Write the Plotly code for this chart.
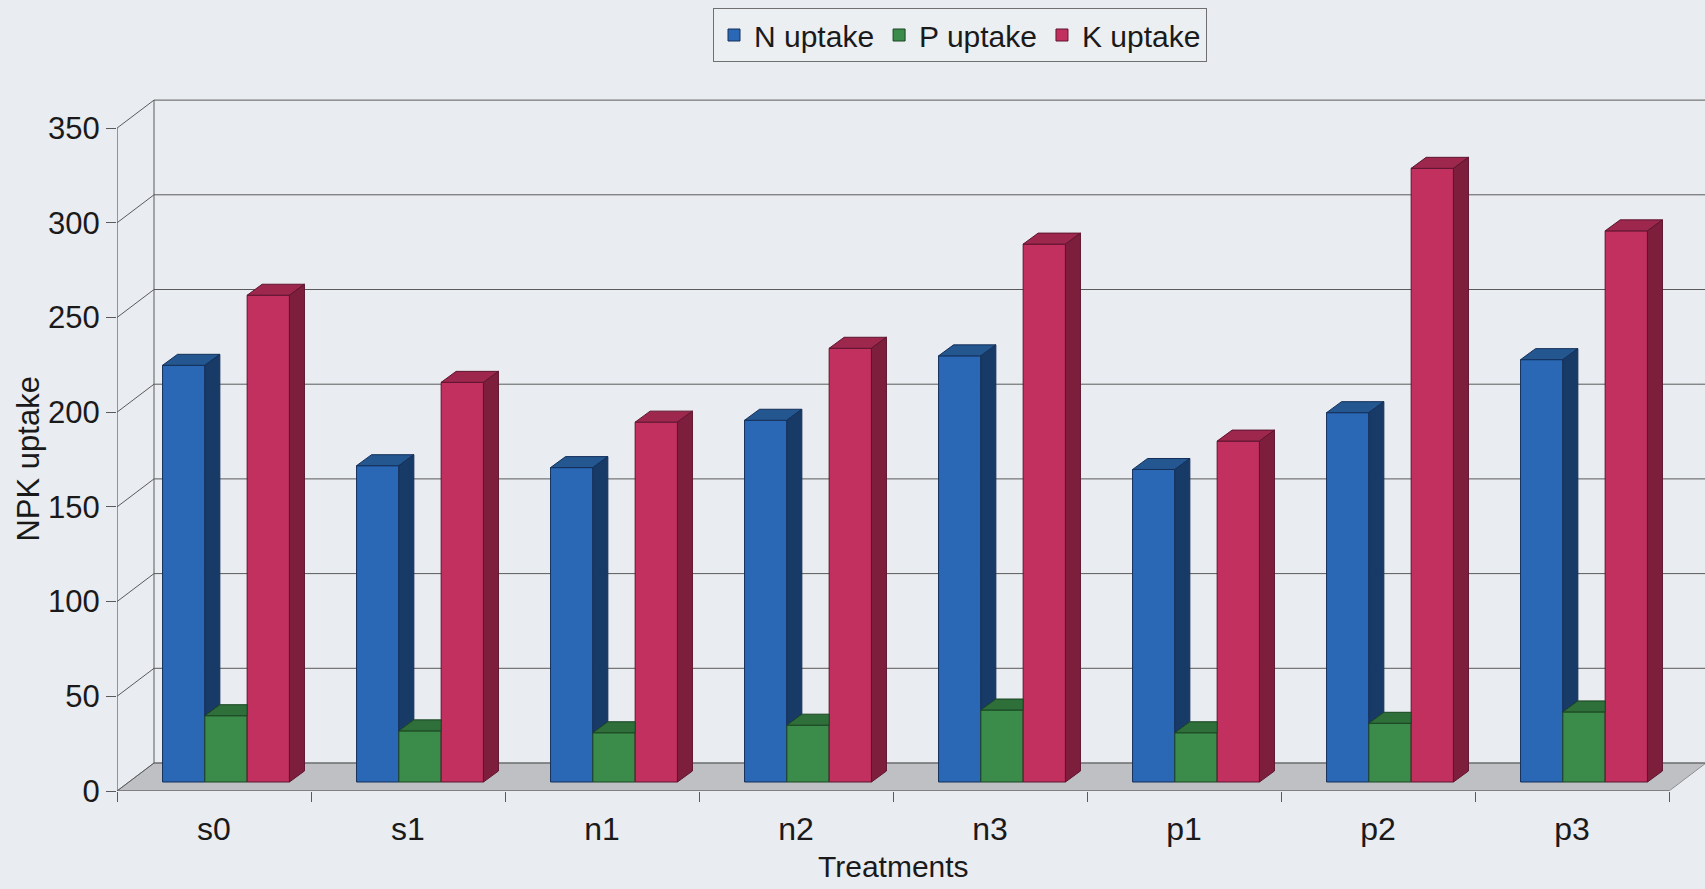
import plotly.graph_objects as go

# ---- data -------------------------------------------------------------
treatments = ["s0", "s1", "n1", "n2", "n3", "p1", "p2", "p3"]
n_uptake = [220, 167, 166, 191, 225, 165, 195, 223]
p_uptake = [35, 27, 26, 30, 38, 26, 31, 37]
k_uptake = [257, 211, 190, 229, 284, 180, 324, 291]
y_ticks = [0, 50, 100, 150, 200, 250, 300, 350]

series = [
    # name, values, front, top, side, edge
    ("N uptake", n_uptake, "#2a68b5", "#245690", "#173b66", "#14305a"),
    ("P uptake", p_uptake, "#3b8c4a", "#2e6f3a", "#1f4f29", "#1a4422"),
    ("K uptake", k_uptake, "#c2305f", "#9e274d", "#7e1e3d", "#5e1530"),
]

# ---- page / projection geometry ----------------------------------------
W, H = 1705, 889
ML, MR, MT, MB = 117, 0, 60, 98
FRONT_RIGHT_PX = 1669                     # right end of the front category axis
N_CAT = len(treatments)
PX_X = (FRONT_RIGHT_PX - ML) / N_CAT      # pixels per category
PX_Y = 1.894                              # pixels per value unit

X_MAX = (W - ML - MR) / PX_X
Y_MAX = (H - MT - MB) / PX_Y
Y_TOP = y_ticks[-1]

# oblique offsets (pixel shift converted into axis units)
WALL_DX, WALL_DY = 37 / PX_X, 28 / PX_Y     # back wall
BAR_DX, BAR_DY = 12 / PX_X, 9 / PX_Y        # plane of the bar front faces
DEP_DX, DEP_DY = 15 / PX_X, 11 / PX_Y       # depth of one column
BAR_W = 42.3 / PX_X

BG = "#e9ecf0"
GRID = "#5a5a5a"
TXT = "#1a1a1a"
FONT = "Arial, Liberation Sans, sans-serif"

fig = go.Figure()

# ---- front faces as real bars ------------------------------------------
geo = []  # per series: list of (x0, x1, top)
for j, (name, vals, front, top, side, edge) in enumerate(series):
    xc = [i + 0.5 + BAR_DX + (j - 1) * BAR_W for i in range(N_CAT)]
    fig.add_trace(go.Bar(
        x=xc, y=vals, base=BAR_DY, width=BAR_W, name=name,
        marker=dict(color=front, line=dict(color=edge, width=1)),
        customdata=treatments,
        hovertemplate="%{customdata}<br>" + name + ": %{y}<extra></extra>",
    ))
    geo.append([(c - BAR_W / 2, c + BAR_W / 2, BAR_DY + v) for c, v in zip(xc, vals)])

# ---- top and side faces, hidden parts trimmed by the neighbour column ---
for j, (name, vals, front, top, side, edge) in enumerate(series):
    tx, ty, sx, sy = [], [], [], []
    for i in range(N_CAT):
        x0, x1, yt = geo[j][i]
        nxt = geo[j + 1][i][2] if j + 1 < len(series) else None
        if nxt is not None and nxt >= yt:
            tx += [x0, x1, x1, x0 + DEP_DX, x0, None]
            ty += [yt, yt, yt + DEP_DY, yt + DEP_DY, yt, None]
        else:
            tx += [x0, x1, x1 + DEP_DX, x0 + DEP_DX, x0, None]
            ty += [yt, yt, yt + DEP_DY, yt + DEP_DY, yt, None]
            low = BAR_DY if nxt is None else nxt
            sx += [x1, x1, x1 + DEP_DX, x1 + DEP_DX, x1, None]
            sy += [low, yt, yt + DEP_DY, low + DEP_DY, low, None]
    fig.add_trace(go.Scatter(x=tx, y=ty, mode="lines", fill="toself",
                             fillcolor=top, line=dict(color=edge, width=1),
                             hoverinfo="skip", showlegend=False))
    if sx:
        fig.add_trace(go.Scatter(x=sx, y=sy, mode="lines", fill="toself",
                                 fillcolor=side, line=dict(color=edge, width=1),
                                 hoverinfo="skip", showlegend=False))

# ---- floor, back wall grid and front axis lines -------------------------
shapes = [dict(
    type="path", layer="below", xref="x", yref="y",
    path=f"M 0,0 L {N_CAT},0 L {N_CAT + WALL_DX},{WALL_DY} L {WALL_DX},{WALL_DY} Z",
    fillcolor="#bfc0c4", line=dict(color="#8e8f93", width=1),
)]
for v in y_ticks:
    shapes.append(dict(type="line", layer="below", xref="x", yref="y",
                       x0=0, y0=v, x1=WALL_DX, y1=v + WALL_DY,
                       line=dict(color=GRID, width=1)))
    shapes.append(dict(type="line", layer="below", xref="x", yref="y",
                       x0=WALL_DX, y0=v + WALL_DY, x1=X_MAX, y1=v + WALL_DY,
                       line=dict(color=GRID, width=1)))
shapes.append(dict(type="line", layer="below", xref="x", yref="y",
                   x0=WALL_DX, y0=WALL_DY, x1=WALL_DX, y1=Y_TOP + WALL_DY,
                   line=dict(color=GRID, width=1)))
shapes.append(dict(type="line", layer="below", xref="x", yref="y",
                   x0=0, y0=0, x1=0, y1=Y_TOP, line=dict(color=GRID, width=1.2)))
shapes.append(dict(type="line", layer="below", xref="x", yref="y",
                   x0=0, y0=0, x1=N_CAT, y1=0, line=dict(color=GRID, width=1.2)))

fig.update_layout(
    width=W, height=H,
    margin=dict(l=ML, r=MR, t=MT, b=MB, autoexpand=False),
    paper_bgcolor=BG, plot_bgcolor=BG,
    barmode="overlay",
    font=dict(family=FONT, color=TXT, size=30),
    shapes=shapes,
    showlegend=True,
    legend=dict(
        orientation="h", xref="container", yref="container",
        x=960 / W, xanchor="center", y=1 - 8 / H, yanchor="top",
        bgcolor="#eceff2", bordercolor="#707070", borderwidth=1,
        font=dict(size=30, color=TXT), itemwidth=30,
        traceorder="normal",
    ),
    xaxis=dict(
        range=[0, X_MAX], showgrid=False, zeroline=False, showline=False,
        automargin=False,
        tickmode="array", tickvals=[i + 0.5 for i in range(N_CAT)],
        ticktext=treatments, ticks="", ticklabelstandoff=16,
        tickfont=dict(size=32, color=TXT),
        minor=dict(tickmode="array", tickvals=list(range(N_CAT + 1)),
                   ticks="outside", ticklen=10, tickcolor=GRID, showgrid=False),
    ),
    yaxis=dict(
        range=[0, Y_MAX], showgrid=False, zeroline=False, showline=False,
        automargin=False,
        tickmode="array", tickvals=y_ticks, ticks="outside", ticklen=10,
        tickcolor=GRID, ticklabelstandoff=0,
        tickfont=dict(size=31, color=TXT),
    ),
    annotations=[
        dict(text="NPK uptake", textangle=-90, xref="paper", yref="y",
             x=(29 - ML) / (W - ML - MR), y=Y_TOP / 2, xanchor="center",
             yanchor="middle", showarrow=False, font=dict(size=31, color=TXT)),
        dict(text="Treatments", xref="x", yref="paper", x=N_CAT / 2,
             y=-(866 - (H - MB)) / (H - MT - MB),
             xanchor="center", yanchor="middle", showarrow=False,
             font=dict(size=30, color=TXT)),
    ],
)

fig.write_html("out.html")
